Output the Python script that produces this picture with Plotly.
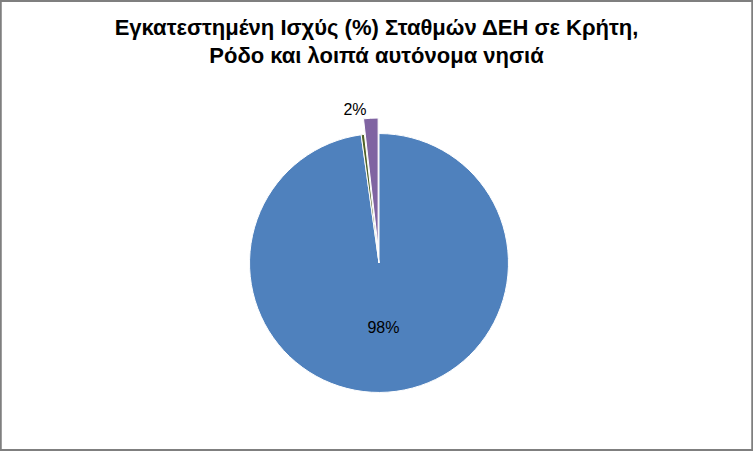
import plotly.graph_objects as go

# μερίδια εγκατεστημένης ισχύος (%)
labels = ['Σταθμοί 1', 'Σταθμοί 2', 'Σταθμοί 3']
values = [97.8, 0.4, 1.8]
colors = ['#4F81BD', '#4F6228', '#8064A2']
pulls = [0, 0, 0.12]
title = 'Εγκατεστημένη Ισχύς (%) Σταθμών ΔΕΗ σε Κρήτη,<br>Ρόδο και λοιπά αυτόνομα νησιά'

W, H = 753, 451

fig = go.Figure(go.Pie(
    labels=labels, values=values, sort=False,
    direction='clockwise', rotation=0,
    pull=pulls,
    marker=dict(colors=colors, line=dict(color='white', width=1)),
    texttemplate=['%{percent:.0%}', '', '%{percent:.0%}'],
    textposition=['inside', 'none', 'outside'],
    textfont=dict(family='Liberation Sans, Arial', size=16, color='black'),
    insidetextorientation='horizontal',
    showlegend=False,
    domain=dict(x=[(379 - 150) / W, (379 + 150) / W],
                y=[(H - 408) / H, (H - 118) / H]),
))

fig.update_layout(
    width=W, height=H,
    margin=dict(l=0, r=0, t=0, b=0),
    paper_bgcolor='white',
    title=dict(text=title, x=0.5, xanchor='center', y=0.923, yanchor='middle',
               font=dict(family='Liberation Sans, Arial', size=22, color='black',
                         weight='bold')),
    shapes=[dict(type='rect', xref='paper', yref='paper', x0=0.001, y0=0.002,
                 x1=0.999, y1=0.998, line=dict(color='#7f7f7f', width=2))],
)

fig.write_html('out.html', config={'displayModeBar': False},
               post_script="document.body.style.margin='0';")
